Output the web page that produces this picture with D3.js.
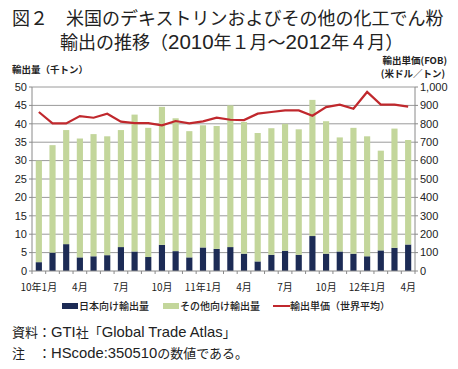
<!DOCTYPE html>
<html>
<head>
<meta charset="utf-8">
<script src="https://cdn.jsdelivr.net/npm/d3@7"></script>
<style>
  body { margin: 0; background: #fff; }
  text { font-family: "Noto Sans CJK JP", "Liberation Sans", sans-serif; }
</style>
</head>
<body>
<div id="chart"></div>
<script>
// months Jan 2010 .. Apr 2012
const months = d3.range(28).map(i => i);
const monthLabels = ['10年1月', '', '', '4月', '', '', '7月', '', '', '10月', '', '',
  '11年1月', '', '', '4月', '', '', '7月', '', '', '10月', '', '',
  '12年1月', '', '', '4月'];

// 千トン
const japanVol = [2.4, 5.0, 7.3, 3.7, 4.0, 4.3, 6.5, 5.3, 3.8, 7.1, 5.4, 3.7, 6.4, 6.0,
  6.5, 4.7, 2.6, 4.4, 5.5, 4.4, 9.5, 4.7, 5.3, 4.7, 4.0, 5.6, 6.3, 7.2];
const totalVol = [30.0, 34.2, 38.3, 36.0, 37.2, 36.6, 38.3, 42.5, 38.9, 44.6, 41.5, 38.0, 39.6, 39.4,
  45.0, 40.5, 37.5, 38.8, 40.0, 38.5, 46.5, 40.7, 36.3, 38.9, 36.6, 32.7, 38.7, 35.6];
const otherVol = totalVol.map((t, i) => +(t - japanVol[i]).toFixed(1));

// 米ドル/トン
const unitPrice = [864, 802, 802, 842, 833, 855, 812, 804, 804, 792, 815, 802, 813, 833,
  822, 820, 855, 864, 873, 873, 844, 891, 904, 882, 973, 904, 904, 893];

const leftTicks = d3.range(0, 55, 5);
const rightTicks = d3.range(0, 1100, 100);

const width = 458, height = 369;
const x0 = 32, x1 = 415, yTop = 87, yBot = 271;

const svg = d3.select("#chart").append("svg")
  .attr("width", width)
  .attr("height", height);

// text with latin runs in a Helvetica-like face (slightly larger, like the original)
const mixedText = (sel, str, latinSize) => {
  str.match(/[\x20-\x7e]+|[^\x20-\x7e]+/g).forEach(run => {
    const t = sel.append("tspan").text(run);
    if (/^[\x20-\x7e]+$/.test(run)) {
      t.style("font-family", "Liberation Sans, sans-serif");
      if (latinSize) t.attr("font-size", latinSize);
    }
  });
  return sel;
};

// titles
svg.append("text").attr("x", 12).attr("y", 25)
  .attr("font-size", 18).attr("fill", "#222")
  .text("図２　米国のデキストリンおよびその他の化工でん粉");
svg.append("text").attr("x", 60).attr("y", 49)
  .attr("font-size", 18).attr("fill", "#222")
  .call(mixedText, "輸出の推移（2010年１月～2012年４月）", 20.5);

const x = d3.scaleBand().domain(months).range([x0, x1]).paddingInner(0.55).paddingOuter(0.275);
const step = x.step();
const y = d3.scaleLinear().domain([0, 50]).range([yBot, yTop]);
const y2 = d3.scaleLinear().domain([0, 1000]).range([yBot, yTop]);

// grid
svg.append("g")
  .selectAll("line")
  .data(leftTicks.slice(1))
  .join("line")
  .attr("x1", x0).attr("x2", x1)
  .attr("y1", d => y(d)).attr("y2", d => y(d))
  .attr("stroke", "#9a9a9a").attr("stroke-width", 1);

// bars
const stackData = months.map(i => ({ m: i, japan: japanVol[i], other: otherVol[i] }));
const series = d3.stack().keys(["japan", "other"])(stackData);
const color = { japan: "#1c2b55", other: "#c3d69b" };

svg.append("g")
  .selectAll("g")
  .data(series)
  .join("g")
  .attr("fill", d => color[d.key])
  .selectAll("rect")
  .data(d => d)
  .join("rect")
  .attr("x", d => x(d.data.m))
  .attr("width", x.bandwidth())
  .attr("y", d => y(d[1]))
  .attr("height", d => y(d[0]) - y(d[1]));

// axes lines
svg.append("line").attr("x1", x0).attr("x2", x0).attr("y1", yTop).attr("y2", yBot)
  .attr("stroke", "#8a8a8a");
svg.append("line").attr("x1", x1).attr("x2", x1).attr("y1", yTop).attr("y2", yBot)
  .attr("stroke", "#8a8a8a");
svg.append("line").attr("x1", x0).attr("x2", x1).attr("y1", yBot).attr("y2", yBot)
  .attr("stroke", "#8a8a8a");

// tick marks on x axis (band boundaries)
svg.append("g")
  .selectAll("line")
  .data(d3.range(29))
  .join("line")
  .attr("x1", i => x0 + i * step).attr("x2", i => x0 + i * step)
  .attr("y1", yBot).attr("y2", yBot + 3)
  .attr("stroke", "#8a8a8a");

// left / right tick marks
svg.append("g").selectAll("line").data(leftTicks).join("line")
  .attr("x1", x0 - 3).attr("x2", x0).attr("y1", d => y(d)).attr("y2", d => y(d))
  .attr("stroke", "#8a8a8a");
svg.append("g").selectAll("line").data(rightTicks).join("line")
  .attr("x1", x1).attr("x2", x1 + 3).attr("y1", d => y2(d)).attr("y2", d => y2(d))
  .attr("stroke", "#8a8a8a");

// price line
const line = d3.line()
  .x((d, i) => x(i) + x.bandwidth() / 2)
  .y(d => y2(d));
svg.append("path")
  .datum(unitPrice)
  .attr("fill", "none")
  .attr("stroke", "#c0282d")
  .attr("stroke-width", 2.2)
  .attr("d", line);

// tick labels
svg.append("g")
  .attr("font-size", 11).attr("text-anchor", "end").attr("fill", "#222")
  .selectAll("text").data(leftTicks).join("text")
  .attr("x", 27).attr("y", d => y(d)).attr("dy", "0.35em")
  .style("font-family", "Liberation Sans, sans-serif")
  .text(d => d);
svg.append("g")
  .attr("font-size", 11).attr("text-anchor", "start").attr("fill", "#222")
  .selectAll("text").data(rightTicks).join("text")
  .attr("x", 420).attr("y", d => y2(d)).attr("dy", "0.35em")
  .style("font-family", "Liberation Sans, sans-serif")
  .text(d3.format(","));

svg.append("g")
  .attr("font-size", 10).attr("text-anchor", "middle").attr("fill", "#222")
  .selectAll("text").data(months.filter(i => monthLabels[i])).join("text")
  .attr("x", i => x(i) + x.bandwidth() / 2).attr("y", 291)
  .text(i => monthLabels[i]);

// axis titles
svg.append("text").attr("x", 12).attr("y", 73).attr("font-size", 9.5)
  .attr("font-weight", "bold").attr("fill", "#222").text("輸出量（千トン）");
svg.append("text").attr("x", 447).attr("y", 64).attr("font-size", 9.5)
  .attr("text-anchor", "end").attr("font-weight", "bold").attr("fill", "#222").text("輸出単価(FOB)");
svg.append("text").attr("x", 445).attr("y", 77).attr("font-size", 9.5)
  .attr("text-anchor", "end").attr("font-weight", "bold").attr("fill", "#222").text("(米ドル／トン)");

// legend
const legendItems = [
  { label: "日本向け輸出量", color: color.japan, type: "rect", x: 62 },
  { label: "その他向け輸出量", color: color.other, type: "rect", x: 163 },
  { label: "輸出単価（世界平均）", color: "#c0282d", type: "line", x: 273 }
];
const lg = svg.append("g").selectAll("g").data(legendItems).join("g")
  .attr("transform", d => `translate(${d.x},306)`);
lg.filter(d => d.type === "rect").append("rect")
  .attr("x", 0).attr("y", -3).attr("width", 16).attr("height", 6)
  .attr("fill", d => d.color);
lg.filter(d => d.type === "line").append("line")
  .attr("x1", 0).attr("x2", 17).attr("y1", 0).attr("y2", 0)
  .attr("stroke", d => d.color).attr("stroke-width", 2);
lg.append("text").attr("x", 17).attr("dy", "0.35em")
  .attr("font-size", 10).attr("font-weight", 500).attr("fill", "#222")
  .text(d => d.label);

// notes
svg.append("text").attr("x", 12).attr("y", 337).attr("font-size", 13).attr("fill", "#222")
  .call(mixedText, "資料：GTI社「Global Trade Atlas」", 14.8);
svg.append("text").attr("x", 12).attr("y", 358).attr("font-size", 13).attr("fill", "#222")
  .call(mixedText, "注　：HScode:350510の数値である。", 14.8);
</script>
</body>
</html>
